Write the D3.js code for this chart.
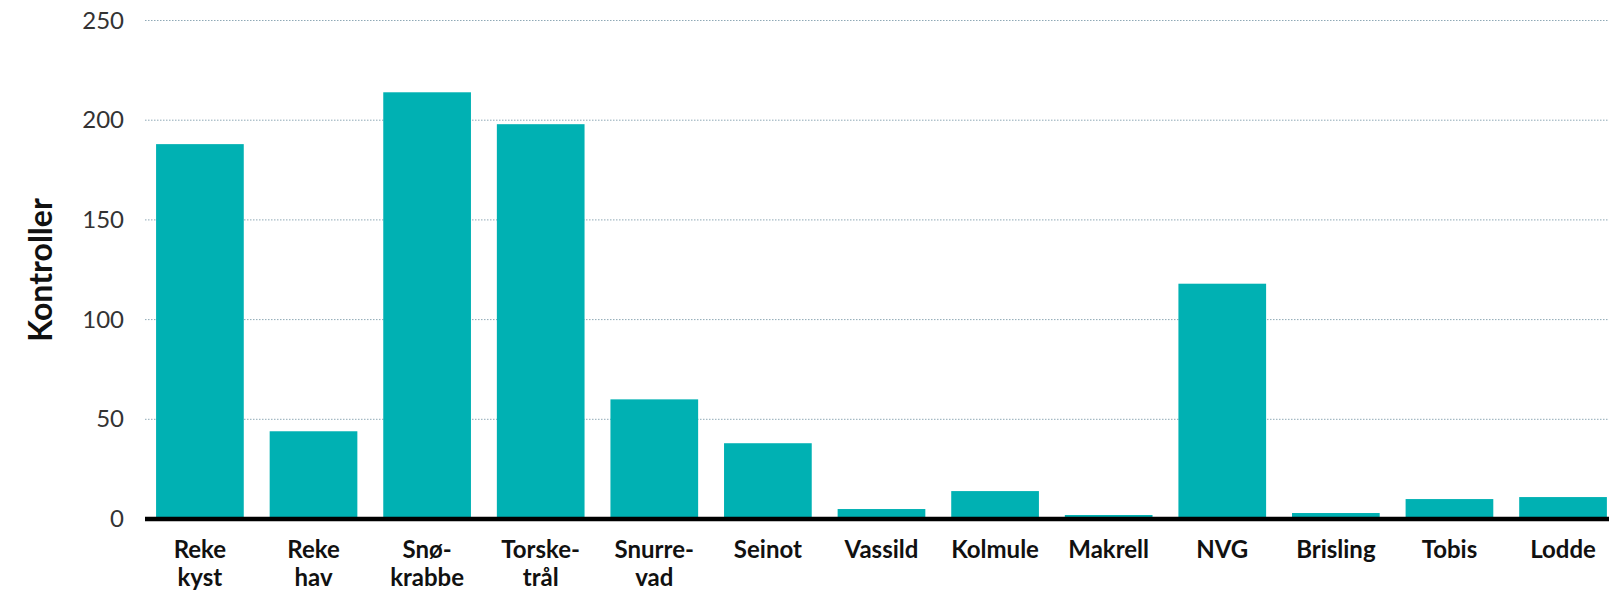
<!DOCTYPE html>
<html>
<head>
<meta charset="utf-8">
<script src="https://cdn.jsdelivr.net/npm/d3@7"></script>
<style>
  body { margin: 0; background: #fff; }
  svg { display: block; }
  .tick text { font-family: Lato, sans-serif; }
</style>
</head>
<body>
<div id="chart"></div>
<script>
// categories, two lines each
var categories = ["Reke kyst", "Reke hav", "Snøkrabbe", "Torsketrål", "Snurrevad", "Seinot",
  "Vassild", "Kolmule", "Makrell", "NVG", "Brisling", "Tobis", "Lodde"];
var labelLines = [["Reke", "kyst"], ["Reke", "hav"], ["Snø-", "krabbe"], ["Torske-", "trål"],
  ["Snurre-", "vad"], ["Seinot"], ["Vassild"], ["Kolmule"], ["Makrell"], ["NVG"],
  ["Brisling"], ["Tobis"], ["Lodde"]];
var kontroller = [188, 44, 214, 198, 60, 38, 5, 14, 2, 118, 3, 10, 11];
var yTicks = [0, 50, 100, 150, 200, 250];

var Width = 1609;
var Height = 590;

// plot edges
var plotLeft = 145;
var plotRight = 1609;
var plotTop = 20.5;
var plotBottom = 519;

var svg = d3.select("#chart")
  .append("svg")
  .attr("width", Width)
  .attr("height", Height);

var x = d3.scaleBand()
  .domain(categories)
  .range([plotLeft, plotRight])
  .paddingInner(0.228)
  .paddingOuter(0.058)
  .align(0.84);

var y = d3.scaleLinear()
  .domain([0, 250])
  .range([plotBottom, plotTop]);

// dotted gridlines
svg.append("g")
  .selectAll("line")
  .data(yTicks.filter(function(d) { return d > 0; }))
  .enter()
  .append("line")
  .attr("x1", plotLeft)
  .attr("x2", plotRight)
  .attr("y1", function(d) { return y(d); })
  .attr("y2", function(d) { return y(d); })
  .attr("stroke", "#8fa9b6")
  .attr("stroke-width", 1)
  .attr("stroke-dasharray", "1.5,1.5");

// y axis labels only
var yAxis = d3.axisLeft(y).tickValues(yTicks).tickSize(0).tickPadding(0);
var gy = svg.append("g")
  .attr("transform", "translate(124,0)")
  .call(yAxis);
gy.select(".domain").remove();
gy.selectAll("text")
  .attr("font-size", 24)
  .attr("fill", "#333");

// bars
svg.append("g")
  .selectAll("rect")
  .data(kontroller)
  .enter()
  .append("rect")
  .attr("x", function(d, i) { return x(categories[i]); })
  .attr("width", x.bandwidth())
  .attr("y", function(d) { return y(d); })
  .attr("height", function(d) { return y(0) - y(d); })
  .attr("fill", "#00b1b3");

// baseline
svg.append("line")
  .attr("x1", plotLeft)
  .attr("x2", plotRight)
  .attr("y1", y(0))
  .attr("y2", y(0))
  .attr("stroke", "#000")
  .attr("stroke-width", 4.5);

// category labels
var catLabels = svg.append("g")
  .selectAll("text")
  .data(labelLines)
  .enter()
  .append("text")
  .attr("x", function(d, i) { return x(categories[i]) + x.bandwidth() / 2; })
  .attr("y", 558)
  .attr("text-anchor", "middle")
  .attr("font-family", "Lato, sans-serif")
  .attr("font-weight", "bold")
  .attr("font-size", 24)
  .attr("fill", "#111");

catLabels.selectAll("tspan")
  .data(function(d) { return d; })
  .enter()
  .append("tspan")
  .attr("x", function() { return d3.select(this.parentNode).attr("x"); })
  .attr("dy", function(d, i) { return i === 0 ? 0 : 27.5; })
  .text(function(d) { return d; });

// y axis title
svg.append("text")
  .attr("transform", "translate(52,270) rotate(-90)")
  .attr("text-anchor", "middle")
  .attr("font-family", "Lato, sans-serif")
  .attr("font-weight", "bold")
  .attr("font-size", 32)
  .attr("fill", "#111")
  .text("Kontroller");
</script>
</body>
</html>
